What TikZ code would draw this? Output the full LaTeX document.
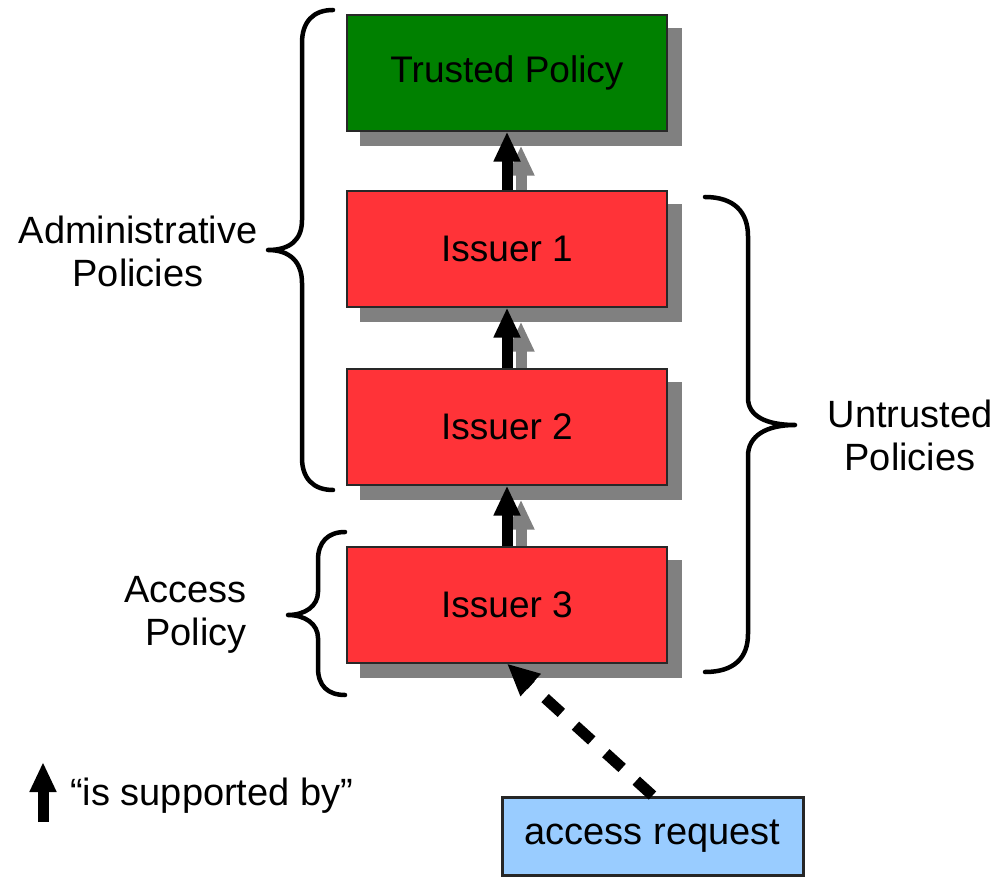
\documentclass[tikz,border=0pt]{standalone}
\usepackage{fontspec}
\setmainfont{Liberation Sans}
\usetikzlibrary{arrows.meta}
\pgfdeclarelayer{background}
\pgfsetlayers{background,main}

\definecolor{trustgreen}{RGB}{0,128,0}
\definecolor{issuerred}{RGB}{255,51,56}
\definecolor{shadowgray}{RGB}{128,128,128}
\definecolor{requestblue}{RGB}{153,204,255}
\definecolor{edgedark}{RGB}{40,40,40}

\begin{document}
\begin{tikzpicture}[x=1pt,y=-1pt,
  policybox/.style={draw=edgedark, line width=1.2pt, minimum width=320pt,
    minimum height=116pt, inner sep=0pt, font=\fontsize{37}{43}\selectfont},
  requestbox/.style={draw=black!85, line width=3pt, fill=requestblue,
    minimum width=301pt, minimum height=78pt, inner sep=0pt,
    font=\fontsize{38}{43}\selectfont},
  label/.style={font=\fontsize{38}{43}\selectfont, inner sep=0pt},
  supportarrow/.style={line width=11pt, -{Triangle[length=30pt,width=25pt]}},
  shadowarrow/.style={supportarrow, draw=shadowgray, fill=shadowgray},
  requestarrow/.style={line width=11pt, dash pattern=on 22pt off 19pt,
    -{Triangle[length=32pt,width=28pt]}},
  brace/.style={line width=4.5pt, line cap=round, line join=round},
  shadowoff/.style={shift={(14,14)}}
]
\useasboundingbox (0,0) rectangle (997,877);

% policy chain
\node[policybox, fill=trustgreen] (tp) at (507,73) {Trusted Policy};
\node[policybox, fill=issuerred] (i1) at (507,249) {Issuer 1};
\node[policybox, fill=issuerred] (i2) at (507,427) {Issuer 2};
\node[policybox, fill=issuerred] (i3) at (507,605) {Issuer 3};
\node[requestbox] (ar) at (652.5,836) {access request};

% drop shadows of boxes and arrows
\begin{pgfonlayer}{background}
  \foreach \b in {tp,i1,i2,i3}
    \fill[shadowgray] ([shadowoff]\b.north west) rectangle ([shadowoff]\b.south east);
  \draw[shadowarrow] ([shadowoff]i1.north) -- ([shadowoff]tp.south);
  \draw[shadowarrow] ([shadowoff]i2.north) -- ([shadowoff]i1.south);
  \draw[shadowarrow] ([shadowoff]i3.north) -- ([shadowoff]i2.south);
\end{pgfonlayer}

% "is supported by" arrows
\draw[supportarrow] (i1.north) -- (tp.south);
\draw[supportarrow] (i2.north) -- (i1.south);
\draw[supportarrow] (i3.north) -- (i2.south);
\draw[requestarrow] (ar.north) -- (i3.south);

% braces
\draw[brace] (333,10) .. controls (313,10) and (302,22) .. (302,43)
  -- (302,220) .. controls (302,240) and (290,250) .. (268,250)
  .. controls (290,250) and (302,262) .. (302,283)
  -- (302,458) .. controls (302,478) and (313,490) .. (333,490);
\draw[brace] (345,532) .. controls (328,532) and (318,542) .. (318,560)
  -- (318,592) .. controls (318,606) and (305,615) .. (288,615)
  .. controls (305,615) and (318,624) .. (318,638)
  -- (318,668) .. controls (318,686) and (328,695) .. (345,695);
\draw[brace] (705,197) .. controls (734,197) and (748,212) .. (748,236)
  -- (748,398) .. controls (748,416) and (766,425) .. (795,425)
  .. controls (766,425) and (748,436) .. (748,456)
  -- (748,634) .. controls (748,658) and (734,672) .. (705,672);

% group labels
\node[label, align=center] (admin) at (138,251) {Administrative\\Policies};
\node[label, align=right, anchor=east] (access) at (247,615) {Access\\Policy};
\node[label, align=center] (untrusted) at (910,435) {Untrusted\\Policies};

% legend
\coordinate (lgfoot) at (43,822);
\coordinate (lghead) at (43,762);
\draw[supportarrow] (lgfoot) -- (lghead);
\node[label, anchor=base west] (legend) at (70,805) {“is supported by”};
\end{tikzpicture}
\end{document}
